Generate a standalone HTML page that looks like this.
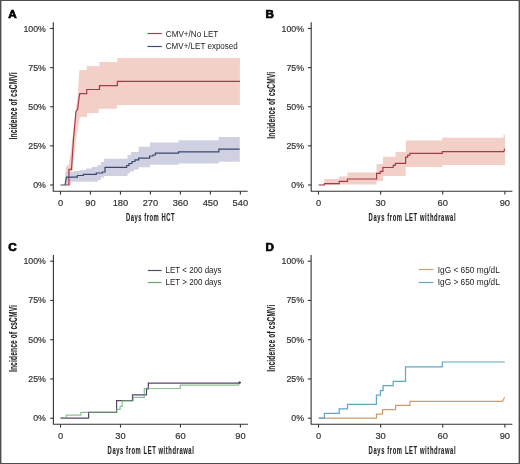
<!DOCTYPE html>
<html><head><meta charset="utf-8"><style>
html,body{margin:0;padding:0;background:#fff;}
body{width:520px;height:464px;overflow:hidden;}
svg{display:block;will-change:transform;}
text{font-family:"Liberation Sans", sans-serif;fill:#333;}
.tk{font-size:9.3px;stroke:#333;stroke-width:0.2px;}
.lg{font-size:8.5px;fill:#222;}
.ttl{font-size:10.4px;font-weight:bold;fill:#222;stroke:#222;stroke-width:0.1px;}
.pl{font-size:11.7px;font-weight:bold;fill:#000;stroke:#000;stroke-width:0.7px;}
</style></head><body>
<svg width="520" height="464" viewBox="0 0 520 464">
<rect x="0" y="0" width="520" height="464" fill="#fff"/>
<polygon points="65.8,185.0 65.8,167.0 69.0,164.0 71.0,150.0 74.0,125.0 77.7,95.0 79.4,70.1 86.7,70.1 86.7,66.0 99.4,66.0 99.4,62.0 117.4,62.0 117.4,58.0 239.9,58.0 239.9,105.0 116.9,105.0 116.9,108.7 98.7,108.7 98.7,113.0 87.1,113.0 87.1,116.9 79.8,116.9 76.0,140.0 72.5,170.0 71.0,185.0" fill="#f2d0c7"/>
<polygon points="65.0,185.0 65.5,172.0 74.0,172.0 74.0,171.0 80.0,171.0 80.0,170.0 86.0,170.0 86.0,168.5 92.0,168.5 92.0,167.0 97.5,167.0 97.5,165.0 101.0,165.0 101.0,162.0 104.0,162.0 104.0,158.7 127.5,158.7 127.5,155.0 131.0,155.0 131.0,152.0 138.7,152.0 138.7,146.8 150.0,146.8 150.0,142.5 178.6,142.5 178.6,140.3 218.8,140.3 218.8,137.1 239.8,137.1 239.8,161.8 218.8,161.8 218.8,163.4 178.6,163.4 178.6,164.8 150.0,164.8 150.0,167.3 138.7,167.3 138.7,169.5 134.0,169.5 134.0,171.5 130.0,171.5 130.0,173.5 127.5,173.5 127.5,176.0 104.0,176.0 104.0,177.5 101.0,177.5 101.0,180.0 98.0,180.0 98.0,181.8 67.0,181.8 67.0,185.0" fill="#cdcee2" fill-opacity="0.95"/>
<polygon points="318.7,185.0 318.7,184.2 324.4,184.2 324.4,179.0 339.2,179.0 339.2,176.4 347.5,176.4 347.5,172.6 376.5,172.6 376.5,164.1 383.0,164.1 383.0,156.7 395.6,156.7 395.6,152.0 405.8,152.0 405.8,140.6 442.3,140.6 442.3,137.7 503.5,137.7 503.5,134.7 505.0,134.7 505.0,165.0 442.5,165.0 442.5,166.9 405.7,166.9 405.7,176.0 383.0,176.0 383.0,181.0 376.5,181.0 376.5,184.5 339.2,184.5 339.2,185.0" fill="#f2d0c7"/>
<path d="M53.3,22.3 V191.3 H247.7" fill="none" stroke="#333" stroke-width="1.1"/>
<line x1="50.099999999999994" y1="185.0" x2="53.3" y2="185.0" stroke="#333" stroke-width="1.1"/>
<text x="45.9" y="188.0" text-anchor="end" class="tk" textLength="12.7" lengthAdjust="spacingAndGlyphs">0%</text>
<line x1="50.099999999999994" y1="145.875" x2="53.3" y2="145.875" stroke="#333" stroke-width="1.1"/>
<text x="45.9" y="148.875" text-anchor="end" class="tk" textLength="17.6" lengthAdjust="spacingAndGlyphs">25%</text>
<line x1="50.099999999999994" y1="106.75" x2="53.3" y2="106.75" stroke="#333" stroke-width="1.1"/>
<text x="45.9" y="109.75" text-anchor="end" class="tk" textLength="17.6" lengthAdjust="spacingAndGlyphs">50%</text>
<line x1="50.099999999999994" y1="67.625" x2="53.3" y2="67.625" stroke="#333" stroke-width="1.1"/>
<text x="45.9" y="70.625" text-anchor="end" class="tk" textLength="17.6" lengthAdjust="spacingAndGlyphs">75%</text>
<line x1="50.099999999999994" y1="28.5" x2="53.3" y2="28.5" stroke="#333" stroke-width="1.1"/>
<text x="45.9" y="31.5" text-anchor="end" class="tk" textLength="22.4" lengthAdjust="spacingAndGlyphs">100%</text>
<line x1="60.5" y1="191.3" x2="60.5" y2="194.60000000000002" stroke="#333" stroke-width="1.1"/>
<text x="60.5" y="206.1" text-anchor="middle" class="tk">0</text>
<line x1="90.48" y1="191.3" x2="90.48" y2="194.60000000000002" stroke="#333" stroke-width="1.1"/>
<text x="90.48" y="206.1" text-anchor="middle" class="tk">90</text>
<line x1="120.46000000000001" y1="191.3" x2="120.46000000000001" y2="194.60000000000002" stroke="#333" stroke-width="1.1"/>
<text x="120.46000000000001" y="206.1" text-anchor="middle" class="tk">180</text>
<line x1="150.44" y1="191.3" x2="150.44" y2="194.60000000000002" stroke="#333" stroke-width="1.1"/>
<text x="150.44" y="206.1" text-anchor="middle" class="tk">270</text>
<line x1="180.42000000000002" y1="191.3" x2="180.42000000000002" y2="194.60000000000002" stroke="#333" stroke-width="1.1"/>
<text x="180.42000000000002" y="206.1" text-anchor="middle" class="tk">360</text>
<line x1="210.4" y1="191.3" x2="210.4" y2="194.60000000000002" stroke="#333" stroke-width="1.1"/>
<text x="210.4" y="206.1" text-anchor="middle" class="tk">450</text>
<line x1="240.38" y1="191.3" x2="240.38" y2="194.60000000000002" stroke="#333" stroke-width="1.1"/>
<text x="240.38" y="206.1" text-anchor="middle" class="tk">540</text>
<text transform="translate(150.2,220.79999999999998) scale(0.56,1)" x="0" y="0" text-anchor="middle" class="ttl" textLength="86.79" lengthAdjust="spacing">Days from HCT</text>
<text transform="translate(16.9,105.9) rotate(-90) scale(0.63,1)" x="0" y="0" text-anchor="middle" class="ttl" textLength="106.35" lengthAdjust="spacing">Incidence of csCMVi</text>
<path d="M311.2,22.3 V191.3 H512.4" fill="none" stroke="#333" stroke-width="1.1"/>
<line x1="308.0" y1="185.0" x2="311.2" y2="185.0" stroke="#333" stroke-width="1.1"/>
<text x="304.0" y="188.0" text-anchor="end" class="tk" textLength="12.7" lengthAdjust="spacingAndGlyphs">0%</text>
<line x1="308.0" y1="145.875" x2="311.2" y2="145.875" stroke="#333" stroke-width="1.1"/>
<text x="304.0" y="148.875" text-anchor="end" class="tk" textLength="17.6" lengthAdjust="spacingAndGlyphs">25%</text>
<line x1="308.0" y1="106.75" x2="311.2" y2="106.75" stroke="#333" stroke-width="1.1"/>
<text x="304.0" y="109.75" text-anchor="end" class="tk" textLength="17.6" lengthAdjust="spacingAndGlyphs">50%</text>
<line x1="308.0" y1="67.625" x2="311.2" y2="67.625" stroke="#333" stroke-width="1.1"/>
<text x="304.0" y="70.625" text-anchor="end" class="tk" textLength="17.6" lengthAdjust="spacingAndGlyphs">75%</text>
<line x1="308.0" y1="28.5" x2="311.2" y2="28.5" stroke="#333" stroke-width="1.1"/>
<text x="304.0" y="31.5" text-anchor="end" class="tk" textLength="22.4" lengthAdjust="spacingAndGlyphs">100%</text>
<line x1="318.5" y1="191.3" x2="318.5" y2="194.60000000000002" stroke="#333" stroke-width="1.1"/>
<text x="318.5" y="206.1" text-anchor="middle" class="tk">0</text>
<line x1="380.63" y1="191.3" x2="380.63" y2="194.60000000000002" stroke="#333" stroke-width="1.1"/>
<text x="380.63" y="206.1" text-anchor="middle" class="tk">30</text>
<line x1="442.76" y1="191.3" x2="442.76" y2="194.60000000000002" stroke="#333" stroke-width="1.1"/>
<text x="442.76" y="206.1" text-anchor="middle" class="tk">60</text>
<line x1="504.89" y1="191.3" x2="504.89" y2="194.60000000000002" stroke="#333" stroke-width="1.1"/>
<text x="504.89" y="206.1" text-anchor="middle" class="tk">90</text>
<text transform="translate(412.1,220.79999999999998) scale(0.56,1)" x="0" y="0" text-anchor="middle" class="ttl" textLength="155.36" lengthAdjust="spacing">Days from LET withdrawal</text>
<text transform="translate(274.9,105.3) rotate(-90) scale(0.63,1)" x="0" y="0" text-anchor="middle" class="ttl" textLength="106.35" lengthAdjust="spacing">Incidence of csCMVi</text>
<path d="M53.4,255.1 V424.3 H247.9" fill="none" stroke="#333" stroke-width="1.1"/>
<line x1="50.199999999999996" y1="418.2" x2="53.4" y2="418.2" stroke="#333" stroke-width="1.1"/>
<text x="45.9" y="421.2" text-anchor="end" class="tk" textLength="12.7" lengthAdjust="spacingAndGlyphs">0%</text>
<line x1="50.199999999999996" y1="378.95" x2="53.4" y2="378.95" stroke="#333" stroke-width="1.1"/>
<text x="45.9" y="381.95" text-anchor="end" class="tk" textLength="17.6" lengthAdjust="spacingAndGlyphs">25%</text>
<line x1="50.199999999999996" y1="339.7" x2="53.4" y2="339.7" stroke="#333" stroke-width="1.1"/>
<text x="45.9" y="342.7" text-anchor="end" class="tk" textLength="17.6" lengthAdjust="spacingAndGlyphs">50%</text>
<line x1="50.199999999999996" y1="300.45" x2="53.4" y2="300.45" stroke="#333" stroke-width="1.1"/>
<text x="45.9" y="303.45" text-anchor="end" class="tk" textLength="17.6" lengthAdjust="spacingAndGlyphs">75%</text>
<line x1="50.199999999999996" y1="261.2" x2="53.4" y2="261.2" stroke="#333" stroke-width="1.1"/>
<text x="45.9" y="264.2" text-anchor="end" class="tk" textLength="22.4" lengthAdjust="spacingAndGlyphs">100%</text>
<line x1="60.5" y1="424.3" x2="60.5" y2="427.6" stroke="#333" stroke-width="1.1"/>
<text x="60.5" y="439.3" text-anchor="middle" class="tk">0</text>
<line x1="120.47" y1="424.3" x2="120.47" y2="427.6" stroke="#333" stroke-width="1.1"/>
<text x="120.47" y="439.3" text-anchor="middle" class="tk">30</text>
<line x1="180.44" y1="424.3" x2="180.44" y2="427.6" stroke="#333" stroke-width="1.1"/>
<text x="180.44" y="439.3" text-anchor="middle" class="tk">60</text>
<line x1="240.41" y1="424.3" x2="240.41" y2="427.6" stroke="#333" stroke-width="1.1"/>
<text x="240.41" y="439.3" text-anchor="middle" class="tk">90</text>
<text transform="translate(150.7,454.0) scale(0.56,1)" x="0" y="0" text-anchor="middle" class="ttl" textLength="153.93" lengthAdjust="spacing">Days from LET withdrawal</text>
<text transform="translate(16.9,338.6) rotate(-90) scale(0.63,1)" x="0" y="0" text-anchor="middle" class="ttl" textLength="106.35" lengthAdjust="spacing">Incidence of csCMVi</text>
<path d="M311.1,255.1 V424.3 H512.4" fill="none" stroke="#333" stroke-width="1.1"/>
<line x1="307.90000000000003" y1="418.2" x2="311.1" y2="418.2" stroke="#333" stroke-width="1.1"/>
<text x="304.0" y="421.2" text-anchor="end" class="tk" textLength="12.7" lengthAdjust="spacingAndGlyphs">0%</text>
<line x1="307.90000000000003" y1="378.95" x2="311.1" y2="378.95" stroke="#333" stroke-width="1.1"/>
<text x="304.0" y="381.95" text-anchor="end" class="tk" textLength="17.6" lengthAdjust="spacingAndGlyphs">25%</text>
<line x1="307.90000000000003" y1="339.7" x2="311.1" y2="339.7" stroke="#333" stroke-width="1.1"/>
<text x="304.0" y="342.7" text-anchor="end" class="tk" textLength="17.6" lengthAdjust="spacingAndGlyphs">50%</text>
<line x1="307.90000000000003" y1="300.45" x2="311.1" y2="300.45" stroke="#333" stroke-width="1.1"/>
<text x="304.0" y="303.45" text-anchor="end" class="tk" textLength="17.6" lengthAdjust="spacingAndGlyphs">75%</text>
<line x1="307.90000000000003" y1="261.2" x2="311.1" y2="261.2" stroke="#333" stroke-width="1.1"/>
<text x="304.0" y="264.2" text-anchor="end" class="tk" textLength="22.4" lengthAdjust="spacingAndGlyphs">100%</text>
<line x1="318.5" y1="424.3" x2="318.5" y2="427.6" stroke="#333" stroke-width="1.1"/>
<text x="318.5" y="439.3" text-anchor="middle" class="tk">0</text>
<line x1="380.63" y1="424.3" x2="380.63" y2="427.6" stroke="#333" stroke-width="1.1"/>
<text x="380.63" y="439.3" text-anchor="middle" class="tk">30</text>
<line x1="442.76" y1="424.3" x2="442.76" y2="427.6" stroke="#333" stroke-width="1.1"/>
<text x="442.76" y="439.3" text-anchor="middle" class="tk">60</text>
<line x1="504.89" y1="424.3" x2="504.89" y2="427.6" stroke="#333" stroke-width="1.1"/>
<text x="504.89" y="439.3" text-anchor="middle" class="tk">90</text>
<text transform="translate(412.1,454.0) scale(0.56,1)" x="0" y="0" text-anchor="middle" class="ttl" textLength="155.36" lengthAdjust="spacing">Days from LET withdrawal</text>
<text transform="translate(274.9,338.2) rotate(-90) scale(0.63,1)" x="0" y="0" text-anchor="middle" class="ttl" textLength="106.35" lengthAdjust="spacing">Incidence of csCMVi</text>
<polyline points="65.5,185.0 68.9,185.0 68.9,169.3 71.5,169.3 73.4,140.0 76.0,111.5 77.6,109.4 79.2,96.5 79.8,93.7 86.7,93.7 86.7,89.5 99.5,89.5 99.5,85.6 117.4,85.6 117.4,81.4 240.0,81.4" fill="none" stroke="#aa3848" stroke-width="1.2" stroke-linejoin="miter" />
<polyline points="60.5,185.0 65.0,185.0 65.0,185.0 66.5,177.2 66.5,177.2 77.3,177.2 77.3,175.5 83.4,175.5 83.4,174.3 96.3,174.3 96.3,173.0 102.4,173.0 102.4,172.0 105.0,172.0 105.0,167.3 126.6,167.3 126.6,165.5 129.0,165.5 129.0,163.5 132.0,163.5 132.0,161.5 135.0,161.5 135.0,159.8 138.7,159.8 138.7,158.2 149.6,158.2 149.6,156.0 153.0,156.0 153.0,155.0 155.4,155.0 155.4,153.1 178.5,153.1 178.5,151.9 218.9,151.9 218.9,149.2 239.7,149.2 239.7,149.2" fill="none" stroke="#38486f" stroke-width="1.2" stroke-linejoin="miter" />
<polyline points="318.7,185.0 324.4,185.0 324.4,183.6 339.2,183.6 339.2,181.4 347.5,181.4 347.5,179.0 376.6,179.0 376.6,173.4 380.3,173.4 380.3,171.3 382.9,171.3 382.9,167.5 393.2,167.5 393.2,165.3 395.3,165.3 395.3,163.4 405.6,163.4 405.6,157.2 407.7,157.2 407.7,155.1 409.9,155.1 409.9,153.4 442.3,153.4 442.3,151.6 503.8,151.6 503.8,151.6 504.8,148.8" fill="none" stroke="#aa3848" stroke-width="1.2" stroke-linejoin="miter" />
<polyline points="60.5,418.1 88.6,418.1 88.6,412.3 116.6,412.3 116.6,400.6 132.5,400.6 132.5,394.9 146.5,394.9 146.5,388.8 148.3,388.8 148.3,383.2 239.2,383.2 239.2,383.2 240.2,382.0" fill="none" stroke="#54446a" stroke-width="1.2" stroke-linejoin="miter" />
<polyline points="60.5,418.1 66.3,418.1 66.3,415.2 80.8,415.2 80.8,412.3 116.6,412.3 116.6,409.3 120.1,409.3 120.1,406.3 122.2,406.3 122.2,400.6 133.2,400.6 133.2,397.4 144.3,397.4 144.3,388.5 180.3,388.5 180.3,385.2 238.6,385.2 238.6,385.2 240.0,382.4" fill="none" stroke="#62a86a" stroke-width="1.2" stroke-linejoin="miter" stroke-opacity="0.72"/>
<polyline points="318.7,418.1 376.5,418.1 376.5,414.1 382.6,414.1 382.6,409.7 395.6,409.7 395.6,405.4 410.0,405.4 410.0,401.4 502.6,401.4 502.6,401.4 504.6,397.3" fill="none" stroke="#cf9d6a" stroke-width="1.2" stroke-linejoin="miter" />
<polyline points="318.7,418.1 324.4,418.1 324.4,413.3 339.2,413.3 339.2,408.8 347.5,408.8 347.5,404.3 376.4,404.3 376.4,395.2 380.4,395.2 380.4,390.6 383.1,390.6 383.1,385.7 393.2,385.7 393.2,381.3 405.5,381.3 405.5,366.8 442.3,366.8 442.3,362.0 504.7,362.0 504.7,362.0" fill="none" stroke="#62a4c2" stroke-width="1.2" stroke-linejoin="miter" />
<circle cx="239.6" cy="382.6" r="1.2" fill="#3d4a40"/>
<line x1="147.5" y1="33.5" x2="161.8" y2="33.5" stroke="#aa3848" stroke-width="1.15"/>
<text x="165.8" y="36.75" class="lg" textLength="52.5" lengthAdjust="spacingAndGlyphs">CMV+/No LET</text>
<line x1="147.5" y1="46.5" x2="161.8" y2="46.5" stroke="#38486f" stroke-width="1.15"/>
<text x="165.8" y="48.95" class="lg" textLength="72.0" lengthAdjust="spacingAndGlyphs">CMV+/LET exposed</text>
<line x1="147.8" y1="270.5" x2="161.6" y2="270.5" stroke="#54446a" stroke-width="1.15"/>
<text x="165.6" y="273.34999999999997" class="lg" textLength="55.9" lengthAdjust="spacingAndGlyphs">LET &lt; 200 days</text>
<line x1="147.8" y1="282.5" x2="161.6" y2="282.5" stroke="#62a86a" stroke-width="1.15"/>
<text x="165.6" y="285.45" class="lg" textLength="55.9" lengthAdjust="spacingAndGlyphs">LET &gt; 200 days</text>
<line x1="418.7" y1="269.5" x2="433.4" y2="269.5" stroke="#cf9d6a" stroke-width="1.15"/>
<text x="437.8" y="272.84999999999997" class="lg" textLength="62.0" lengthAdjust="spacingAndGlyphs">IgG &lt; 650 mg/dL</text>
<line x1="418.7" y1="282.5" x2="433.4" y2="282.5" stroke="#62a4c2" stroke-width="1.15"/>
<text x="437.8" y="285.05" class="lg" textLength="62.0" lengthAdjust="spacingAndGlyphs">IgG &gt; 650 mg/dL</text>
<text x="8.2" y="17.8" class="pl">A</text>
<text x="265.4" y="17.8" class="pl">B</text>
<text x="8.2" y="250.9" class="pl">C</text>
<text x="265.6" y="250.9" class="pl">D</text>
<rect x="0" y="0" width="520" height="1" fill="#4d4d4d"/><rect x="0" y="463" width="520" height="1" fill="#4d4d4d"/><rect x="0" y="0" width="1.4" height="464" fill="#4d4d4d"/><rect x="518.6" y="0" width="1.4" height="464" fill="#4d4d4d"/>
</svg>
</body></html>
